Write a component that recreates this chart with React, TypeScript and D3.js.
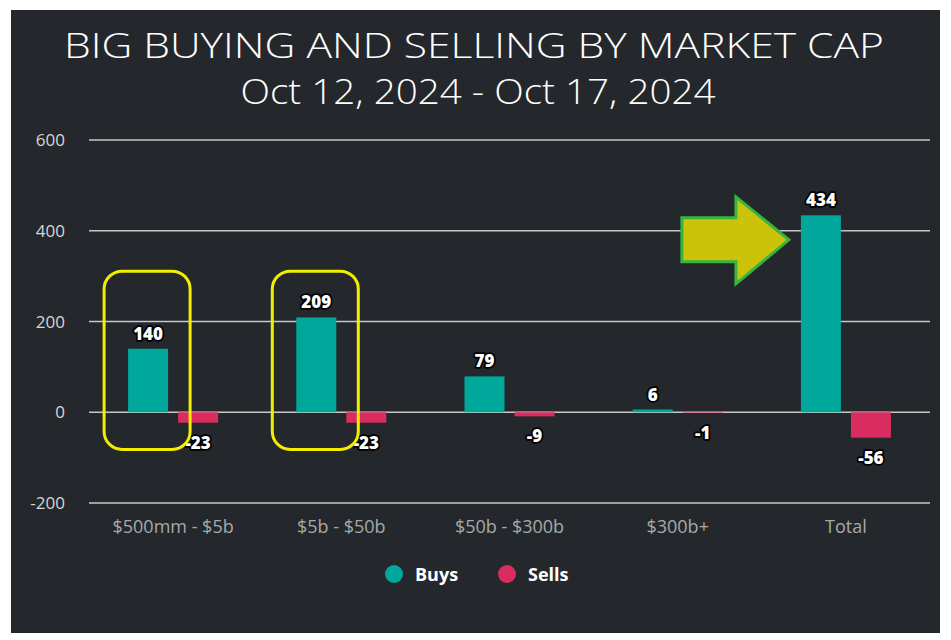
import React from "react";
import * as d3 from "d3";

const categories = ["$500mm - $5b", "$5b - $50b", "$50b - $300b", "$300b+", "Total"];
const buys = [140, 209, 79, 6, 434];
const sells = [-23, -23, -9, -1, -56];
const yTicks = [-200, 0, 200, 400, 600];
const seriesNames = ["Buys", "Sells"];
const highlighted = [0, 1];
const arrowTargetIndex = 4;
const titleLine1 = "BIG BUYING AND SELLING BY MARKET CAP";
const titleLine2 = "Oct 12, 2024 - Oct 17, 2024";

const W = 951;
const H = 640;
const BG = "#24282c";
const TEAL = "#00a89c";
const PINK = "#d92d5f";
const GRID = "#c8c8c8";
const FONT = "'Open Sans', 'DejaVu Sans', sans-serif";

export default function App() {
  const plotLeft = 89;
  const plotRight = 930;
  const x0 = d3.scaleBand<string>().domain(categories).range([plotLeft, plotRight]);
  const bw = x0.bandwidth();
  const x1 = d3
    .scaleBand<string>()
    .domain(seriesNames)
    .range([bw / 2 - 45, bw / 2 + 45])
    .paddingInner(0.2);
  const y = d3.scaleLinear().domain([-200, 600]).range([503, 140]);
  const barW = x1.bandwidth();

  const colors = d3.scaleOrdinal<string, string>().domain(seriesNames).range([TEAL, PINK]);

  const labelStyle: React.CSSProperties = {
    fontFamily: FONT,
    fontWeight: 800,
    fontSize: 17,
    fill: "#ffffff",
    stroke: "#000000",
    strokeWidth: 3.5,
    paintOrder: "stroke",
    strokeLinejoin: "round",
  };

  // arrow geometry based on the target bar
  const tCat = categories[arrowTargetIndex];
  const tipX = (x0(tCat) as number) + (x1("Buys") as number) - 12;
  const tipY = y(380);
  const headBaseX = tipX - 53;
  const bodyLeft = tipX - 107;
  const arrowPts: [number, number][] = [
    [bodyLeft, tipY - 22],
    [headBaseX, tipY - 22],
    [headBaseX, tipY - 43],
    [tipX, tipY],
    [headBaseX, tipY + 44],
    [headBaseX, tipY + 22],
    [bodyLeft, tipY + 22],
  ];

  return (
    <svg
      width={W}
      height={H}
      style={{ position: "absolute", left: 0, top: 0, display: "block" }}
    >
      <rect x={0} y={0} width={W} height={H} fill="#ffffff" />
      <rect x={11} y={10} width={929} height={623} fill={BG} />

      <text
        x={474}
        y={58}
        textAnchor="middle"
        fill="#ffffff"
        textLength={820}
        lengthAdjust="spacingAndGlyphs"
        style={{ fontFamily: FONT, fontWeight: 300, fontSize: 35 }}
      >
        {titleLine1}
      </text>
      <text
        x={478}
        y={104}
        textAnchor="middle"
        fill="#ffffff"
        textLength={475}
        lengthAdjust="spacingAndGlyphs"
        style={{ fontFamily: FONT, fontWeight: 300, fontSize: 35 }}
      >
        {titleLine2}
      </text>

      {/* grid + y ticks */}
      {yTicks.map((t) => (
        <g key={t}>
          <line x1={plotLeft} x2={plotRight} y1={y(t)} y2={y(t)} stroke={GRID} strokeWidth={1.5} />
          <text
            x={65}
            y={y(t) + 6}
            textAnchor="end"
            fill="#d6d6d6"
            style={{ fontFamily: FONT, fontSize: 17 }}
          >
            {t}
          </text>
        </g>
      ))}

      {/* bars */}
      {categories.map((c, i) => {
        const gx = x0(c) as number;
        const bx = gx + (x1("Buys") as number);
        const sx = gx + (x1("Sells") as number);
        return (
          <g key={c}>
            <rect x={bx} y={y(buys[i])} width={barW} height={y(0) - y(buys[i])} fill={colors("Buys")} />
            <rect x={sx} y={y(0)} width={barW} height={y(sells[i]) - y(0)} fill={colors("Sells")} />
          </g>
        );
      })}

      {/* value labels */}
      {categories.map((c, i) => {
        const gx = x0(c) as number;
        const bx = gx + (x1("Buys") as number) + barW / 2;
        const sx = gx + (x1("Sells") as number) + barW / 2;
        return (
          <g key={"l" + c}>
            <text x={bx} y={y(buys[i]) - 9} textAnchor="middle" style={labelStyle}>
              {buys[i]}
            </text>
            <text x={sx} y={y(sells[i]) + 26} textAnchor="middle" style={labelStyle}>
              {sells[i]}
            </text>
          </g>
        );
      })}

      {/* x labels */}
      {categories.map((c) => (
        <text
          key={"x" + c}
          x={(x0(c) as number) + bw / 2}
          y={533}
          textAnchor="middle"
          fill="#a8a8a8"
          style={{ fontFamily: FONT, fontSize: 18 }}
        >
          {c}
        </text>
      ))}

      {/* highlight boxes */}
      {highlighted.map((i) => {
        const c = categories[i];
        const gx = x0(c) as number;
        const bx = gx + (x1("Buys") as number);
        const top = y(311);
        const bottom = y(-82);
        return (
          <rect
            key={"h" + c}
            x={bx - 24}
            y={top}
            width={86}
            height={bottom - top}
            rx={18}
            ry={18}
            fill="none"
            stroke="#f2ee00"
            strokeWidth={3}
          />
        );
      })}

      {/* arrow */}
      <polygon
        points={arrowPts.map((p) => p.join(",")).join(" ")}
        fill="#cbc30a"
        stroke="#35b540"
        strokeWidth={3}
        strokeLinejoin="miter"
      />

      {/* legend */}
      {seriesNames.map((s, i) => {
        const lx = 394 + i * 113;
        return (
          <g key={"lg" + s}>
            <circle cx={lx} cy={574} r={9} fill={colors(s)} />
            <text
              x={lx + 21}
              y={581}
              fill="#ffffff"
              style={{ fontFamily: FONT, fontWeight: 700, fontSize: 18 }}
            >
              {s}
            </text>
          </g>
        );
      })}
    </svg>
  );
}
